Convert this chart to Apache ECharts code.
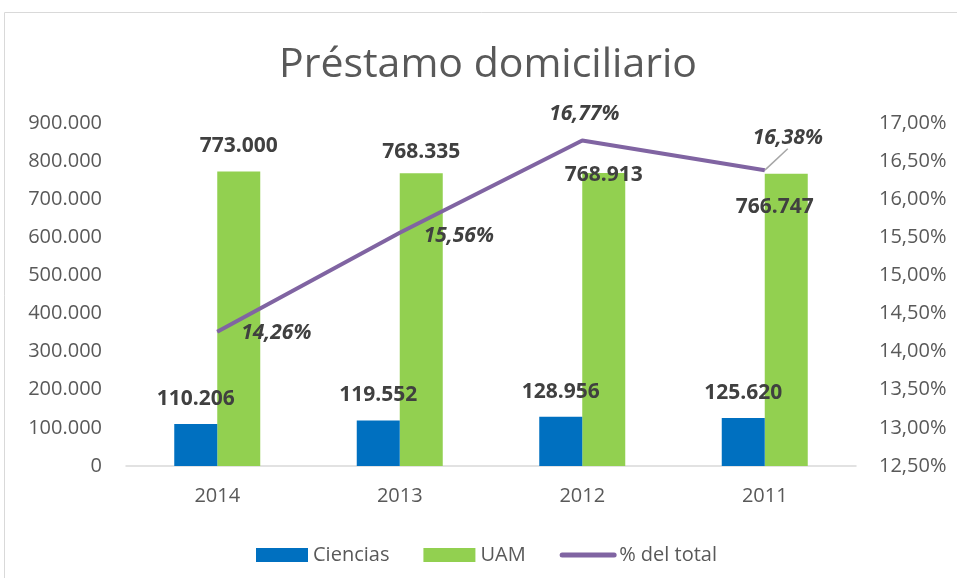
<!DOCTYPE html>
<html>
<head>
<meta charset="utf-8">
<script src="https://cdn.jsdelivr.net/npm/echarts@6/dist/echarts.min.js"></script>
<style>
  html, body { margin: 0; padding: 0; background: #fff; }
  #chart { width: 957px; height: 578px; }
</style>
</head>
<body>
<div id="chart"></div>
<script>
// datos
const years = ["2014", "2013", "2012", "2011"];
const ciencias = [110206, 119552, 128956, 125620];
const uam = [773000, 768335, 768913, 766747];
const pctTotal = [14.26, 15.56, 16.77, 16.38];

const font = "Open Sans";
const grey = "#595959";
const dark = "#404040";

// 773000 -> "773.000"
function miles(v) {
  return String(Math.round(v)).replace(/\B(?=(\d{3})+(?!\d))/g, ".");
}
function pct(v) {
  return v.toFixed(2).replace(".", ",") + "%";
}

// posicion de las etiquetas (relativa a la barra / al punto)
const uamLabelPos = [["50%", -25], ["50%", -21], ["50%", 2], [10, 33]];
const pctLabelMove = [[59, 1], [59, 3], [2, -27], [23, -32]];

const chart = echarts.init(document.getElementById("chart"));
chart.setOption({
  animation: false,
  textStyle: { fontFamily: font },
  title: {
    text: "Préstamo domiciliario",
    left: 274,
    top: 40,
    textStyle: { fontFamily: font, fontSize: 41, fontWeight: "normal", color: grey }
  },
  graphic: [{
    type: "rect",
    shape: { x: 4.5, y: 12.5, width: 1000, height: 700 },
    style: { fill: "none", stroke: "#d9d9d9", lineWidth: 1 },
    silent: true
  }],
  legend: {
    left: 251,
    top: 540,
    itemWidth: 52,
    itemHeight: 14,
    itemGap: 34,
    textStyle: { fontFamily: font, fontSize: 20, color: grey },
    data: [
      { name: "Ciencias", icon: "rect" },
      { name: "UAM", icon: "rect" },
      { name: "% del total", itemStyle: { opacity: 0 }, lineStyle: { width: 5, cap: "round" } }
    ]
  },
  grid: { left: 126, right: 101, top: 123, bottom: 112 },
  xAxis: {
    type: "category",
    data: years,
    axisLine: { lineStyle: { color: "#d9d9d9", width: 1.5 } },
    axisTick: { show: false },
    axisLabel: { fontFamily: font, fontSize: 20, color: grey, margin: 20 }
  },
  yAxis: [
    {
      type: "value",
      min: 0,
      max: 900000,
      interval: 100000,
      splitLine: { show: false },
      axisLine: { show: false },
      axisTick: { show: false },
      axisLabel: { fontFamily: font, fontSize: 20, color: grey, margin: 24, formatter: miles }
    },
    {
      type: "value",
      min: 12.5,
      max: 17,
      interval: 0.5,
      splitLine: { show: false },
      axisLine: { show: false },
      axisTick: { show: false },
      axisLabel: { fontFamily: font, fontSize: 20, color: grey, margin: 23, formatter: pct }
    }
  ],
  series: [
    {
      name: "Ciencias",
      type: "bar",
      barWidth: 43,
      barGap: "0%",
      itemStyle: { color: "#0070C0" },
      label: {
        show: true,
        position: ["50%", -25],
        align: "center",
        verticalAlign: "middle",
        fontFamily: font,
        fontSize: 21,
        fontWeight: "bold",
        color: dark,
        formatter: p => miles(p.value)
      },
      z: 3,
      data: ciencias
    },
    {
      name: "UAM",
      type: "bar",
      barWidth: 43,
      barGap: "0%",
      itemStyle: { color: "#92D050" },
      z: 2,
      data: uam.map((v, i) => ({
        value: v,
        label: {
          show: true,
          position: uamLabelPos[i],
          align: "center",
          verticalAlign: "middle",
          fontFamily: font,
          fontSize: 21,
          fontWeight: "bold",
          color: dark,
          formatter: p => miles(p.value)
        }
      }))
    },
    {
      name: "% del total",
      type: "line",
      yAxisIndex: 1,
      symbol: "circle",
      symbolSize: 1,
      showSymbol: true,
      z: 5,
      lineStyle: { color: "#8064A2", width: 4 },
      itemStyle: { color: "#8064A2" },
      label: {
        show: true,
        position: "inside",
        fontFamily: font,
        fontSize: 21,
        fontWeight: "bold",
        fontStyle: "italic",
        color: dark,
        formatter: p => pct(p.value)
      },
      labelLayout: p => ({ dx: pctLabelMove[p.dataIndex][0], dy: pctLabelMove[p.dataIndex][1] }),
      labelLine: { show: false },
      data: pctTotal.map((v, i) => i === 3
        ? { value: v, labelLine: { show: true, lineStyle: { color: "#a6a6a6", width: 1.5 } } }
        : v)
    }
  ]
});
</script>
</body>
</html>
